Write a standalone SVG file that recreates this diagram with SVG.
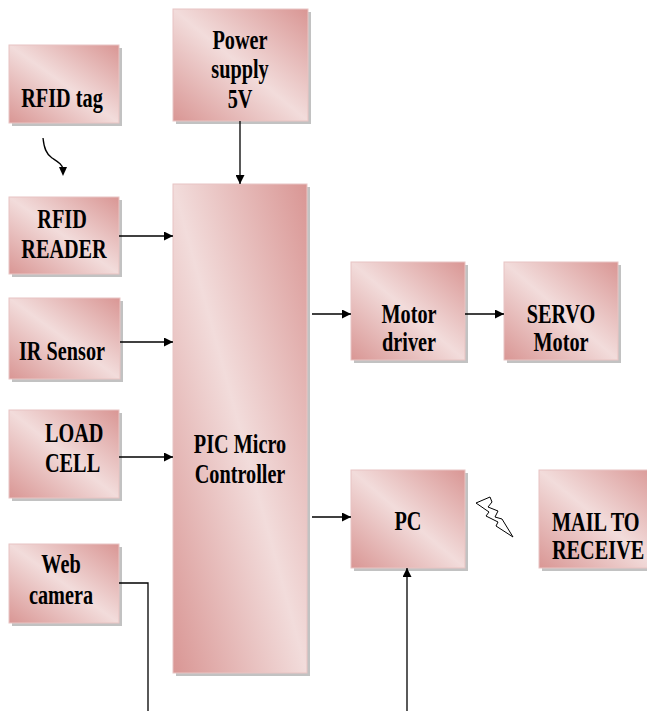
<svg xmlns="http://www.w3.org/2000/svg" width="647" height="711" viewBox="0 0 647 711">
<defs>
<linearGradient id="g" x1="0" y1="1" x2="1" y2="0">
<stop offset="0" stop-color="#d99694"/>
<stop offset="0.5" stop-color="#f2dcdb"/>
<stop offset="1" stop-color="#d99694"/>
</linearGradient>
<marker id="ah" viewBox="0 0 10 10" refX="10" refY="5" markerWidth="9" markerHeight="9" markerUnits="userSpaceOnUse" orient="auto">
<path d="M0,0 L10,5 L0,10 z" fill="#000"/>
</marker>
</defs>
<style>
.sh{fill:#9a9a9a;opacity:0.6}
.bx{fill:url(#g);stroke:#e8c4c3;stroke-width:1}
.t{font-family:"Liberation Serif","Times New Roman",serif;font-weight:bold;font-size:27px;fill:#000}
.c{stroke:#000;stroke-width:1.3;fill:none}
</style>
<rect width="647" height="711" fill="#fff"/>
<g id="rfid-tag">
<rect class="sh" x="12" y="48" width="110" height="78"/>
<rect class="bx" x="9" y="45" width="110" height="78"/>
<text class="t" text-anchor="middle" transform="matrix(0.75 0 0 1 62 107)">RFID tag</text>
</g>
<g id="power-supply">
<rect class="sh" x="176" y="12" width="135" height="112"/>
<rect class="bx" x="173" y="9" width="135" height="112"/>
<text class="t" text-anchor="middle" transform="matrix(0.75 0 0 1 240 49)">Power</text>
<text class="t" text-anchor="middle" transform="matrix(0.75 0 0 1 240 78)">supply</text>
<text class="t" text-anchor="middle" transform="matrix(0.75 0 0 1 240 108)">5V</text>
</g>
<g id="rfid-reader">
<rect class="sh" x="12" y="200" width="110" height="77"/>
<rect class="bx" x="9" y="197" width="110" height="77"/>
<text class="t" text-anchor="middle" transform="matrix(0.75 0 0 1 62 228)">RFID</text>
<text class="t" text-anchor="middle" transform="matrix(0.75 0 0 1 64 258)">READER</text>
</g>
<g id="ir-sensor">
<rect class="sh" x="12" y="301" width="111" height="81"/>
<rect class="bx" x="9" y="298" width="111" height="81"/>
<text class="t" text-anchor="middle" transform="matrix(0.75 0 0 1 62 360)">IR Sensor</text>
</g>
<g id="load-cell">
<rect class="sh" x="12" y="413" width="110" height="88"/>
<rect class="bx" x="9" y="410" width="110" height="88"/>
<text class="t" transform="matrix(0.75 0 0 1 45 442)">LOAD</text>
<text class="t" transform="matrix(0.75 0 0 1 45 472)">CELL</text>
</g>
<g id="web-camera">
<rect class="sh" x="12" y="547" width="110" height="79"/>
<rect class="bx" x="9" y="544" width="110" height="79"/>
<text class="t" text-anchor="middle" transform="matrix(0.75 0 0 1 61 573)">Web</text>
<text class="t" text-anchor="middle" transform="matrix(0.75 0 0 1 61 604)">camera</text>
</g>
<g id="pic">
<rect class="sh" x="176" y="187" width="134" height="489"/>
<rect class="bx" x="173" y="184" width="134" height="489"/>
<text class="t" text-anchor="middle" transform="matrix(0.75 0 0 1 240 453)">PIC Micro</text>
<text class="t" text-anchor="middle" transform="matrix(0.75 0 0 1 240 483)">Controller</text>
</g>
<g id="motor-driver">
<rect class="sh" x="354" y="265" width="114" height="98"/>
<rect class="bx" x="351" y="262" width="114" height="98"/>
<text class="t" text-anchor="middle" transform="matrix(0.75 0 0 1 409 323)">Motor</text>
<text class="t" text-anchor="middle" transform="matrix(0.75 0 0 1 409 351)">driver</text>
</g>
<g id="servo-motor">
<rect class="sh" x="507" y="265" width="114" height="98"/>
<rect class="bx" x="504" y="262" width="114" height="98"/>
<text class="t" text-anchor="middle" transform="matrix(0.75 0 0 1 561 323)">SERVO</text>
<text class="t" text-anchor="middle" transform="matrix(0.75 0 0 1 561 351)">Motor</text>
</g>
<g id="pc">
<rect class="sh" x="354" y="473" width="114" height="98"/>
<rect class="bx" x="351" y="470" width="114" height="98"/>
<text class="t" text-anchor="middle" transform="matrix(0.75 0 0 1 408 530)">PC</text>
</g>
<g id="mail">
<rect class="sh" x="542" y="473" width="120" height="98"/>
<rect class="bx" x="539" y="470" width="120" height="98"/>
<text class="t" transform="matrix(0.75 0 0 1 552 531)">MAIL TO</text>
<text class="t" transform="matrix(0.75 0 0 1 552 559)">RECEIVE</text>
</g>
<g id="connectors">
<path class="c" d="M43,138 C44,148 46,154 52,158 C58,162 62,164 63,169" />
<path d="M59,167 L67,167 L63,176 z" fill="#000"/>
<line class="c" x1="240" y1="121" x2="240" y2="184" marker-end="url(#ah)"/>
<line class="c" x1="119" y1="236" x2="173" y2="236" marker-end="url(#ah)"/>
<line class="c" x1="120" y1="342" x2="173" y2="342" marker-end="url(#ah)"/>
<line class="c" x1="119" y1="457" x2="173" y2="457" marker-end="url(#ah)"/>
<polyline class="c" points="119,583 148,583 148,711" stroke="#333"/>
<line class="c" x1="312" y1="314" x2="351" y2="314" marker-end="url(#ah)"/>
<line class="c" x1="465" y1="314" x2="504" y2="314" marker-end="url(#ah)"/>
<line class="c" x1="312" y1="517" x2="351" y2="517" marker-end="url(#ah)"/>
<line class="c" x1="407" y1="711" x2="407" y2="568" marker-end="url(#ah)"/>
<polygon points="476,503 490,497 492,502 488,507 498,511 495,517 502,519 513,537 496,526 498,522 486,516 489,512" fill="#fff" stroke="#000" stroke-width="1"/>
</g>
</svg>
